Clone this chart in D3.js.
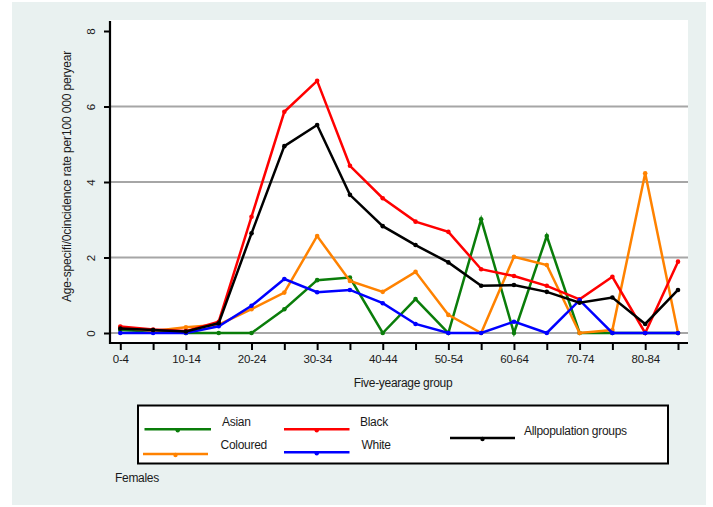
<!DOCTYPE html>
<html>
<head>
<meta charset="utf-8">
<script src="https://cdn.jsdelivr.net/npm/d3@7"></script>
<style>
  html, body { margin: 0; padding: 0; background: #ffffff; }
  svg { display: block; }
  text { font-family: "Liberation Sans", Arial, sans-serif; fill: #1a1a1a; }
</style>
</head>
<body>
<svg id="chart" width="713" height="507"></svg>
<script>
const categories = ["0-4","5-9","10-14","15-19","20-24","25-29","30-34","35-39","40-44","45-49","50-54","55-59","60-64","65-69","70-74","75-79","80-84","85+"];
const asian    = [0.08,0.04,0,0,0,0.63,1.40,1.47,0,0.90,0,3.01,0,2.57,0,0,0,0];
const coloured = [0.15,0.05,0.15,0.22,0.63,1.07,2.57,1.38,1.09,1.62,0.48,0,2.02,1.80,0,0.08,4.23,0];
const black    = [0.17,0.09,0.05,0.30,3.08,5.86,6.68,4.43,3.57,2.95,2.68,1.69,1.51,1.25,0.89,1.49,0,1.89];
const white    = [0,0,0,0.18,0.72,1.43,1.08,1.14,0.79,0.24,0,0,0.30,0,0.87,0,0,0];
const allGroups= [0.12,0.08,0.04,0.26,2.64,4.95,5.51,3.66,2.83,2.33,1.87,1.25,1.27,1.09,0.80,0.94,0.24,1.14];
const yTicks = [0,2,4,6,8];
const gridValues = [0,2,4,6];
const seriesNames = ["Asian","Coloured","Black","White","Allpopulation groups"];
const seriesColors = ["#0a7d0a","#ff8200","#ff0000","#0000ff","#000000"];
const seriesData = [asian, coloured, black, white, allGroups];
const drawOrder = [0,1,2,3,4];

const svg = d3.select("#chart");

// outer background
svg.append("rect").attr("x",12).attr("y",2).attr("width",694).attr("height",503).attr("fill","#e9f1f0");

const plotL = 110, plotR = 688, plotT = 20, plotB = 343;
svg.append("rect").attr("x",plotL).attr("y",plotT).attr("width",plotR-plotL).attr("height",plotB-plotT).attr("fill","#ffffff");

const x = d3.scalePoint().domain(categories).range([120.3, 678]);
const y = d3.scaleLinear().domain([0,8]).range([333, 31]);

// gridlines
svg.append("g").selectAll("line").data(gridValues).join("line")
  .attr("x1",plotL).attr("x2",plotR)
  .attr("y1",d=>y(d)).attr("y2",d=>y(d))
  .attr("stroke","#a6a6a6").attr("stroke-width",2);

// series
const line = d3.line().x((d,i)=>x(categories[i])).y(d=>y(d));
drawOrder.forEach(k=>{
  const g = svg.append("g");
  g.append("path").datum(seriesData[k]).attr("d",line)
    .attr("fill","none").attr("stroke",seriesColors[k]).attr("stroke-width",2.5)
    .attr("stroke-linejoin","miter");
  g.selectAll("circle").data(seriesData[k]).join("circle")
    .attr("cx",(d,i)=>x(categories[i])).attr("cy",d=>y(d)).attr("r",2.3)
    .attr("fill",seriesColors[k]);
});

// x axis
const xAxis = d3.axisBottom(x).tickSize(7).tickPadding(5)
  .tickFormat((d,i)=> i%2===0 ? d : "");
const gx = svg.append("g").attr("transform",`translate(0,${plotB})`).call(xAxis);
gx.select(".domain").remove();
gx.selectAll(".tick line").attr("stroke","#000").attr("stroke-width",2);
gx.selectAll(".tick text").attr("font-size","11.5px").attr("fill","#1a1a1a")
  .attr("letter-spacing","-0.2px")
  .attr("font-family",'"Liberation Sans", Arial, sans-serif');
svg.append("line").attr("x1",plotL-1).attr("x2",plotR).attr("y1",plotB).attr("y2",plotB)
  .attr("stroke","#000").attr("stroke-width",2.2);

// y axis
const yAxis = d3.axisLeft(y).tickValues(yTicks).tickSize(6).tickFormat(d3.format("d"));
const gy = svg.append("g").attr("transform",`translate(${plotL},0)`).call(yAxis);
gy.select(".domain").remove();
gy.selectAll(".tick line").attr("stroke","#000").attr("stroke-width",2);
gy.selectAll(".tick text").attr("font-size","11.5px").attr("fill","#1a1a1a")
  .attr("font-family",'"Liberation Sans", Arial, sans-serif')
  .attr("transform","rotate(-90)").attr("x",0).attr("y",-19).attr("dy","0.35em")
  .attr("text-anchor","middle");
svg.append("line").attr("x1",plotL).attr("x2",plotL).attr("y1",plotT+1).attr("y2",plotB+1)
  .attr("stroke","#000").attr("stroke-width",2.2);

// axis titles
svg.append("text").attr("x",403).attr("y",383).attr("dy","0.35em").attr("text-anchor","middle")
  .attr("font-size","12px").attr("letter-spacing","-0.3px").text("Five-yearage group");
svg.append("text").attr("transform","translate(67,176.5) rotate(-90)").attr("dy","0.35em")
  .attr("text-anchor","middle").attr("font-size","12px").attr("letter-spacing","-0.15px")
  .text("Age-specifi/0cincidence rate per100 000 peryear");

// legend
svg.append("rect").attr("x",138).attr("y",405.5).attr("width",530).attr("height",58)
  .attr("fill","#ffffff").attr("stroke","#000").attr("stroke-width",2);
const legendItems = [
  {k:0, x1:144.5, x2:211, ly:429.3, tx:222, ty:421.7},
  {k:1, x1:143, x2:208, ly:454, tx:220.6, ty:445},
  {k:2, x1:284, x2:349.5, ly:429.3, tx:360, ty:421.7},
  {k:3, x1:284, x2:349.5, ly:452.3, tx:361.5, ty:445},
  {k:4, x1:450, x2:515, ly:438, tx:524, ty:430.7}
];
const lg = svg.append("g").selectAll("g").data(legendItems).join("g");
lg.append("line").attr("x1",d=>d.x1).attr("x2",d=>d.x2).attr("y1",d=>d.ly).attr("y2",d=>d.ly)
  .attr("stroke",d=>seriesColors[d.k]).attr("stroke-width",2.5);
lg.append("circle").attr("cx",d=>(d.x1+d.x2)/2).attr("cy",d=>d.ly+1).attr("r",2.2)
  .attr("fill",d=>seriesColors[d.k]);
lg.append("text").attr("x",d=>d.tx).attr("y",d=>d.ty).attr("dy","0.35em")
  .attr("font-size","12px").attr("letter-spacing","-0.3px").text(d=>seriesNames[d.k]);

svg.append("text").attr("x",115).attr("y",478).attr("dy","0.35em")
  .attr("font-size","12px").attr("letter-spacing","-0.3px").text("Females");
</script>
</body>
</html>
